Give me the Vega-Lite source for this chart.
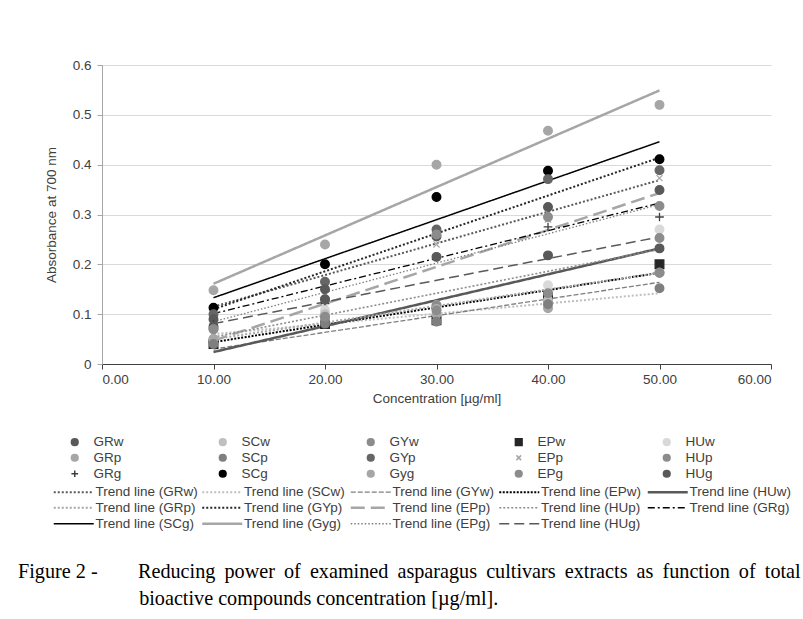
{
  "$schema": "https://vega.github.io/schema/vega-lite/v6.json",
  "width": 669,
  "height": 299,
  "autosize": {"type": "none"},
  "padding": {"left": 102, "top": 65, "right": 32, "bottom": 255},
  "background": "white",
  "title": {
    "text": ["Figure 2 - \u00a0\u00a0\u00a0\u00a0\u00a0\u00a0\u00a0Reducing \u2009power \u2009of \u2009examined \u2009asparagus \u2009cultivars \u2009extracts \u2009as \u2009function \u2009of \u2009total", "\u200b\u00a0\u00a0\u00a0\u00a0\u00a0\u00a0\u00a0\u00a0\u00a0\u00a0\u00a0\u00a0\u00a0\u00a0\u00a0\u00a0\u00a0\u00a0\u00a0\u00a0\u00a0\u00a0\u00a0\u00a0bioactive compounds concentration [µg/ml]."],
    "orient": "bottom",
    "anchor": "start",
    "frame": "group",
    "dx": -84,
    "offset": 31,
    "font": "Liberation Serif",
    "fontSize": 20.2,
    "fontWeight": "normal",
    "color": "#000000",
    "lineHeight": 27
  },
  "datasets": {
    "pts": [
      {"series": "Gyg", "conc": 10, "abs": 0.148}, {"series": "Gyg", "conc": 20, "abs": 0.24}, {"series": "Gyg", "conc": 30, "abs": 0.4}, {"series": "Gyg", "conc": 40, "abs": 0.468}, {"series": "Gyg", "conc": 50, "abs": 0.52},
      {"series": "SCg", "conc": 10, "abs": 0.113}, {"series": "SCg", "conc": 20, "abs": 0.2}, {"series": "SCg", "conc": 30, "abs": 0.335}, {"series": "SCg", "conc": 40, "abs": 0.388}, {"series": "SCg", "conc": 50, "abs": 0.411},
      {"series": "GYp", "conc": 10, "abs": 0.1}, {"series": "GYp", "conc": 20, "abs": 0.165}, {"series": "GYp", "conc": 30, "abs": 0.27}, {"series": "GYp", "conc": 40, "abs": 0.371}, {"series": "GYp", "conc": 50, "abs": 0.389},
      {"series": "GRw", "conc": 10, "abs": 0.09}, {"series": "GRw", "conc": 20, "abs": 0.15}, {"series": "GRw", "conc": 30, "abs": 0.256}, {"series": "GRw", "conc": 40, "abs": 0.315}, {"series": "GRw", "conc": 50, "abs": 0.349},
      {"series": "EPp", "conc": 10, "abs": 0.06}, {"series": "EPp", "conc": 20, "abs": 0.12}, {"series": "EPp", "conc": 30, "abs": 0.24}, {"series": "EPp", "conc": 40, "abs": 0.29}, {"series": "EPp", "conc": 50, "abs": 0.373},
      {"series": "GRg", "conc": 10, "abs": 0.08}, {"series": "GRg", "conc": 20, "abs": 0.121}, {"series": "GRg", "conc": 30, "abs": 0.215}, {"series": "GRg", "conc": 40, "abs": 0.275}, {"series": "GRg", "conc": 50, "abs": 0.295},
      {"series": "EPg", "conc": 10, "abs": 0.07}, {"series": "EPg", "conc": 20, "abs": 0.13}, {"series": "EPg", "conc": 30, "abs": 0.26}, {"series": "EPg", "conc": 40, "abs": 0.295}, {"series": "EPg", "conc": 50, "abs": 0.317},
      {"series": "HUg", "conc": 10, "abs": 0.075}, {"series": "HUg", "conc": 20, "abs": 0.13}, {"series": "HUg", "conc": 30, "abs": 0.215}, {"series": "HUg", "conc": 40, "abs": 0.218}, {"series": "HUg", "conc": 50, "abs": 0.232},
      {"series": "HUw", "conc": 10, "abs": 0.05}, {"series": "HUw", "conc": 20, "abs": 0.108}, {"series": "HUw", "conc": 30, "abs": 0.118}, {"series": "HUw", "conc": 40, "abs": 0.158}, {"series": "HUw", "conc": 50, "abs": 0.27},
      {"series": "HUp", "conc": 10, "abs": 0.045}, {"series": "HUp", "conc": 20, "abs": 0.094}, {"series": "HUp", "conc": 30, "abs": 0.118}, {"series": "HUp", "conc": 40, "abs": 0.128}, {"series": "HUp", "conc": 50, "abs": 0.253},
      {"series": "EPw", "conc": 10, "abs": 0.04}, {"series": "EPw", "conc": 20, "abs": 0.08}, {"series": "EPw", "conc": 30, "abs": 0.088}, {"series": "EPw", "conc": 40, "abs": 0.135}, {"series": "EPw", "conc": 50, "abs": 0.2},
      {"series": "SCw", "conc": 10, "abs": 0.05}, {"series": "SCw", "conc": 20, "abs": 0.1}, {"series": "SCw", "conc": 30, "abs": 0.11}, {"series": "SCw", "conc": 40, "abs": 0.128}, {"series": "SCw", "conc": 50, "abs": 0.183},
      {"series": "GRp", "conc": 10, "abs": 0.05}, {"series": "GRp", "conc": 20, "abs": 0.09}, {"series": "GRp", "conc": 30, "abs": 0.1}, {"series": "GRp", "conc": 40, "abs": 0.112}, {"series": "GRp", "conc": 50, "abs": 0.183},
      {"series": "SCp", "conc": 10, "abs": 0.04}, {"series": "SCp", "conc": 20, "abs": 0.081}, {"series": "SCp", "conc": 30, "abs": 0.085}, {"series": "SCp", "conc": 40, "abs": 0.12}, {"series": "SCp", "conc": 50, "abs": 0.152},
      {"series": "GYw", "conc": 10, "abs": 0.07}, {"series": "GYw", "conc": 20, "abs": 0.095}, {"series": "GYw", "conc": 30, "abs": 0.108}, {"series": "GYw", "conc": 40, "abs": 0.142}, {"series": "GYw", "conc": 50, "abs": 0.183}
    ],
    "trend": [
      {"trend": "Trend line (GRw)", "conc": 10, "abs": 0.115}, {"trend": "Trend line (GRw)", "conc": 50, "abs": 0.369},
      {"trend": "Trend line (SCw)", "conc": 10, "abs": 0.06}, {"trend": "Trend line (SCw)", "conc": 50, "abs": 0.142},
      {"trend": "Trend line (GYw)", "conc": 10, "abs": 0.03}, {"trend": "Trend line (GYw)", "conc": 50, "abs": 0.164},
      {"trend": "Trend line (EPw)", "conc": 10, "abs": 0.044}, {"trend": "Trend line (EPw)", "conc": 50, "abs": 0.183},
      {"trend": "Trend line (HUw)", "conc": 10, "abs": 0.024}, {"trend": "Trend line (HUw)", "conc": 50, "abs": 0.232},
      {"trend": "Trend line (GRp)", "conc": 10, "abs": 0.05}, {"trend": "Trend line (GRp)", "conc": 50, "abs": 0.183},
      {"trend": "Trend line (GYp)", "conc": 10, "abs": 0.11}, {"trend": "Trend line (GYp)", "conc": 50, "abs": 0.414},
      {"trend": "Trend line (EPp)", "conc": 10, "abs": 0.047}, {"trend": "Trend line (EPp)", "conc": 50, "abs": 0.343},
      {"trend": "Trend line (HUp)", "conc": 10, "abs": 0.054}, {"trend": "Trend line (HUp)", "conc": 50, "abs": 0.23},
      {"trend": "Trend line (GRg)", "conc": 10, "abs": 0.101}, {"trend": "Trend line (GRg)", "conc": 50, "abs": 0.323},
      {"trend": "Trend line (SCg)", "conc": 10, "abs": 0.133}, {"trend": "Trend line (SCg)", "conc": 50, "abs": 0.446},
      {"trend": "Trend line (Gyg)", "conc": 10, "abs": 0.161}, {"trend": "Trend line (Gyg)", "conc": 50, "abs": 0.549},
      {"trend": "Trend line (EPg)", "conc": 10, "abs": 0.085}, {"trend": "Trend line (EPg)", "conc": 50, "abs": 0.32},
      {"trend": "Trend line (HUg)", "conc": 10, "abs": 0.081}, {"trend": "Trend line (HUg)", "conc": 50, "abs": 0.255}
    ]
  },
  "layer": [
    {
      "data": {"name": "trend"},
      "mark": {"type": "line", "clip": false},
      "encoding": {
        "x": {"field": "conc", "type": "quantitative", "scale": {"domain": [0, 60], "nice": false},
          "axis": {"values": [0, 10, 20, 30, 40, 50, 60], "format": ".2f", "title": "Concentration [µg/ml]", "grid": false, "domainColor": "#404040", "tickColor": "#404040", "tickSize": 5, "labelPadding": 3, "titlePadding": 6}},
        "y": {"field": "abs", "type": "quantitative", "scale": {"domain": [0, 0.6], "nice": false},
          "axis": {"values": [0, 0.1, 0.2, 0.3, 0.4, 0.5, 0.6], "labelExpr": "datum.value == 0 ? '0' : format(datum.value, '.1f')", "title": "Absorbance at 700 nm", "grid": true, "gridColor": "#d9d9d9", "domainColor": "#a6a6a6", "tickColor": "#a6a6a6", "tickSize": 5, "labelPadding": 6, "titlePadding": 14}},
        "color": {"field": "trend", "type": "nominal",
          "scale": {"domain": ["Trend line (GRw)", "Trend line (SCw)", "Trend line (GYw)", "Trend line (EPw)", "Trend line (HUw)", "Trend line (GRp)", "Trend line (GYp)", "Trend line (EPp)", "Trend line (HUp)", "Trend line (GRg)", "Trend line (SCg)", "Trend line (Gyg)", "Trend line (EPg)", "Trend line (HUg)"],
            "range": ["#595959", "#bfbfbf", "#7f7f7f", "#000000", "#595959", "#a6a6a6", "#262626", "#a6a6a6", "#8c8c8c", "#000000", "#000000", "#a6a6a6", "#7f7f7f", "#595959"]},
          "legend": {"orient": "none", "legendX": -49, "legendY": 420, "columns": 5, "direction": "horizontal", "gridAlign": "all", "columnPadding": -1.5, "rowPadding": 1, "symbolType": "M-4,0H4", "symbolSize": 100, "symbolOffset": 14, "labelOffset": 15, "title": null}},
        "strokeDash": {"field": "trend", "type": "nominal",
          "scale": {"domain": ["Trend line (GRw)", "Trend line (SCw)", "Trend line (GYw)", "Trend line (EPw)", "Trend line (HUw)", "Trend line (GRp)", "Trend line (GYp)", "Trend line (EPp)", "Trend line (HUp)", "Trend line (GRg)", "Trend line (SCg)", "Trend line (Gyg)", "Trend line (EPg)", "Trend line (HUg)"],
            "range": [[2, 2], [2, 2], [5, 2], [2, 1.5], [1, 0], [2, 2], [2, 2], [14, 6], [2, 2], [7, 3, 2, 3], [1, 0], [1, 0], [1.5, 2], [10, 5]]},
          "legend": {"orient": "none", "legendX": -49, "legendY": 420, "columns": 5, "title": null}},
        "strokeWidth": {"field": "trend", "type": "nominal",
          "scale": {"type": "ordinal", "domain": ["Trend line (GRw)", "Trend line (SCw)", "Trend line (GYw)", "Trend line (EPw)", "Trend line (HUw)", "Trend line (GRp)", "Trend line (GYp)", "Trend line (EPp)", "Trend line (HUp)", "Trend line (GRg)", "Trend line (SCg)", "Trend line (Gyg)", "Trend line (EPg)", "Trend line (HUg)"],
            "range": [2, 2, 1.3, 2, 2.5, 2, 2, 2.5, 1.6, 1.3, 1.5, 2.5, 1.3, 1.5]},
          "legend": {"orient": "none", "legendX": -49, "legendY": 420, "columns": 5, "title": null}}
      }
    },
    {
      "data": {"name": "pts"},
      "mark": {"type": "point", "filled": true, "size": 75, "opacity": 1, "strokeWidth": 1.3},
      "encoding": {
        "x": {"field": "conc", "type": "quantitative"},
        "y": {"field": "abs", "type": "quantitative"},
        "color": {"field": "series", "type": "nominal",
          "scale": {"domain": ["GRw", "SCw", "GYw", "EPw", "HUw", "GRp", "SCp", "GYp", "EPp", "HUp", "GRg", "SCg", "Gyg", "EPg", "HUg"],
            "range": ["#595959", "#bfbfbf", "#8c8c8c", "#262626", "#d9d9d9", "#a6a6a6", "#7f7f7f", "#666666", "#a6a6a6", "#8c8c8c", "#404040", "#000000", "#a6a6a6", "#8c8c8c", "#595959"]},
          "legend": {"orient": "none", "legendX": -34, "legendY": 370, "columns": 5, "direction": "horizontal", "gridAlign": "all", "columnPadding": 92, "rowPadding": 1, "symbolSize": 45, "labelOffset": 12, "title": null}},
        "stroke": {"field": "series", "type": "nominal",
          "scale": {"domain": ["GRw", "SCw", "GYw", "EPw", "HUw", "GRp", "SCp", "GYp", "EPp", "HUp", "GRg", "SCg", "Gyg", "EPg", "HUg"],
            "range": ["#595959", "#bfbfbf", "#8c8c8c", "#262626", "#d9d9d9", "#a6a6a6", "#7f7f7f", "#666666", "#a6a6a6", "#8c8c8c", "#404040", "#000000", "#a6a6a6", "#8c8c8c", "#595959"]},
          "legend": {"orient": "none", "legendX": -34, "legendY": 370, "columns": 5, "title": null}},
        "shape": {"field": "series", "type": "nominal",
          "scale": {"domain": ["GRw", "SCw", "GYw", "EPw", "HUw", "GRp", "SCp", "GYp", "EPp", "HUp", "GRg", "SCg", "Gyg", "EPg", "HUg"],
            "range": ["circle", "circle", "circle", "square", "circle", "circle", "circle", "circle", "M-0.7,-0.7L0.7,0.7M0.7,-0.7L-0.7,0.7", "circle", "M-1,0H1M0,-1V1", "circle", "circle", "circle", "circle"]},
          "legend": {"orient": "none", "legendX": -34, "legendY": 370, "columns": 5, "title": null}}
      }
    }
  ],
  "resolve": {"scale": {"color": "independent", "stroke": "independent", "shape": "independent", "strokeDash": "independent", "strokeWidth": "independent"}},
  "config": {
    "view": {"stroke": null},
    "font": "Liberation Sans",
    "axis": {"labelFont": "Liberation Sans", "labelFontSize": 13.5, "labelColor": "#404040", "titleFont": "Liberation Sans", "titleFontSize": 13.5, "titleFontWeight": "normal", "titleColor": "#404040"},
    "legend": {"labelFont": "Liberation Sans", "labelFontSize": 13.5, "labelColor": "#404040", "padding": 0, "labelLimit": 200}
  }
}
